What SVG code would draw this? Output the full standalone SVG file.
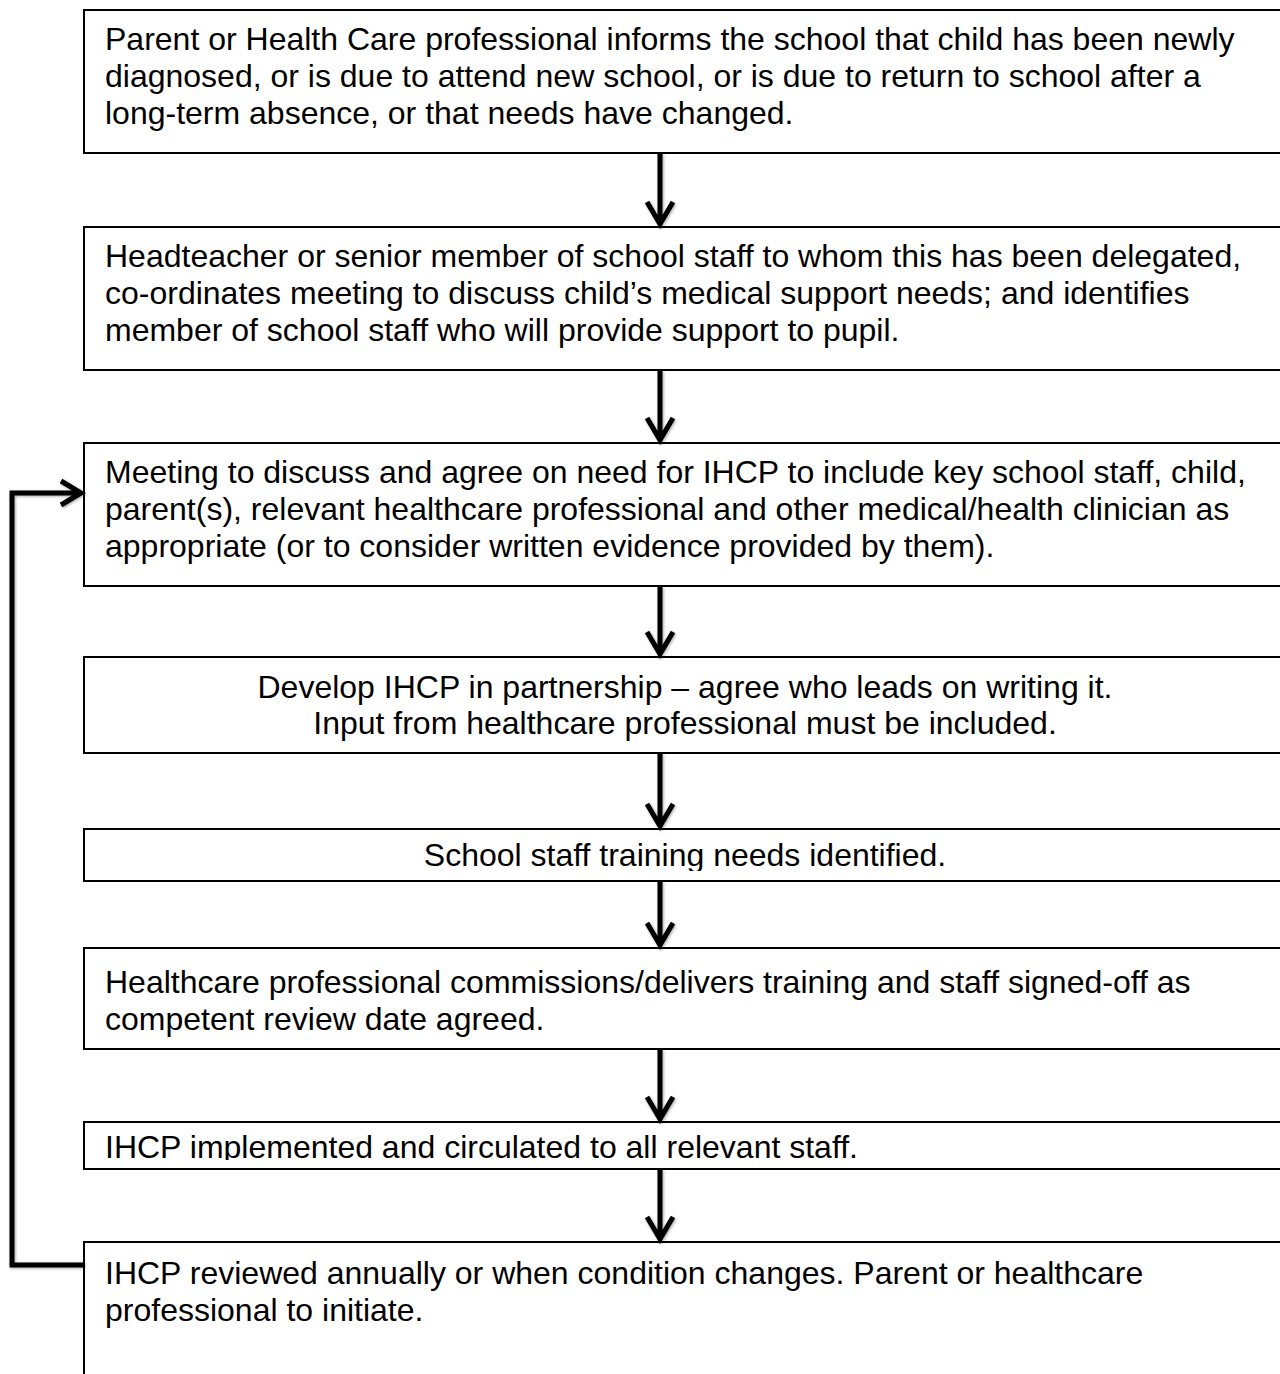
<svg xmlns="http://www.w3.org/2000/svg" width="1280" height="1374" viewBox="0 0 1280 1374">
<style>
.box{fill:#fff;stroke:#000;stroke-width:2}
.t{font-family:"Liberation Sans",Arial,sans-serif;font-size:32px;fill:#000}
.c{text-anchor:middle}
.arr{fill:none;stroke:#000;stroke-width:5;filter:url(#sh)}
</style>
<defs>
<filter id="sh" x="-20%" y="-20%" width="140%" height="140%">
<feGaussianBlur in="SourceAlpha" stdDeviation="1.5"/>
<feOffset dx="1" dy="1" result="b"/>
<feComponentTransfer><feFuncA type="linear" slope="0.35"/></feComponentTransfer>
<feMerge><feMergeNode/><feMergeNode in="SourceGraphic"/></feMerge>
</filter>
<clipPath id="clip5"><rect x="84" y="829" width="1210" height="42"/></clipPath>
<clipPath id="clip7"><rect x="84" y="1122" width="1210" height="38"/></clipPath>
</defs>
<rect width="1280" height="1374" fill="#fff"/>
<g id="n1"><rect class="box" x="84" y="10" width="1210" height="143"/>
<text class="t" x="105" y="50">Parent or Health Care professional informs the school that child has been newly</text>
<text class="t" x="105" y="87">diagnosed, or is due to attend new school, or is due to return to school after a</text>
<text class="t" x="105" y="124">long-term absence, or that needs have changed.</text></g>
<g id="n2"><rect class="box" x="84" y="227" width="1210" height="143"/>
<text class="t" x="105" y="267">Headteacher or senior member of school staff to whom this has been delegated,</text>
<text class="t" x="105" y="304">co-ordinates meeting to discuss child’s medical support needs; and identifies</text>
<text class="t" x="105" y="341">member of school staff who will provide support to pupil.</text></g>
<g id="n3"><rect class="box" x="84" y="443" width="1210" height="143"/>
<text class="t" x="105" y="483">Meeting to discuss and agree on need for IHCP to include key school staff, child,</text>
<text class="t" x="105" y="520">parent(s), relevant healthcare professional and other medical/health clinician as</text>
<text class="t" x="105" y="557">appropriate (or to consider written evidence provided by them).</text></g>
<g id="n4"><rect class="box" x="84" y="657" width="1210" height="96"/>
<text class="t c" x="685" y="698">Develop IHCP in partnership – agree who leads on writing it.</text>
<text class="t c" x="685" y="734">Input from healthcare professional must be included.</text></g>
<g id="n5"><rect class="box" x="84" y="829" width="1210" height="52"/>
<text class="t c" x="685" y="866" clip-path="url(#clip5)">School staff training needs identified.</text></g>
<g id="n6"><rect class="box" x="84" y="948" width="1210" height="101"/>
<text class="t" x="105" y="993">Healthcare professional commissions/delivers training and staff signed-off as</text>
<text class="t" x="105" y="1030">competent review date agreed.</text></g>
<g id="n7"><rect class="box" x="84" y="1122" width="1210" height="47"/>
<text class="t" x="105" y="1158" clip-path="url(#clip7)">IHCP implemented and circulated to all relevant staff.</text></g>
<g id="n8"><rect class="box" x="84" y="1242" width="1210" height="140"/>
<text class="t" x="105" y="1284">IHCP reviewed annually or when condition changes. Parent or healthcare</text>
<text class="t" x="105" y="1321">professional to initiate.</text></g>
<g id="connectors">
<path class="arr" d="M660,153 V224 M647,202 L660,224 L673,202"/>
<path class="arr" d="M660,370 V440 M647,418 L660,440 L673,418"/>
<path class="arr" d="M660,586 V654 M647,632 L660,654 L673,632"/>
<path class="arr" d="M660,753 V826 M647,804 L660,826 L673,804"/>
<path class="arr" d="M660,881 V945 M647,923 L660,945 L673,923"/>
<path class="arr" d="M660,1049 V1119 M647,1097 L660,1119 L673,1097"/>
<path class="arr" d="M660,1169 V1239 M647,1217 L660,1239 L673,1217"/>
<path class="arr" d="M84,1265 H12 V493 H80 M61,481 L81,493 L61,505"/>
</g>
</svg>
